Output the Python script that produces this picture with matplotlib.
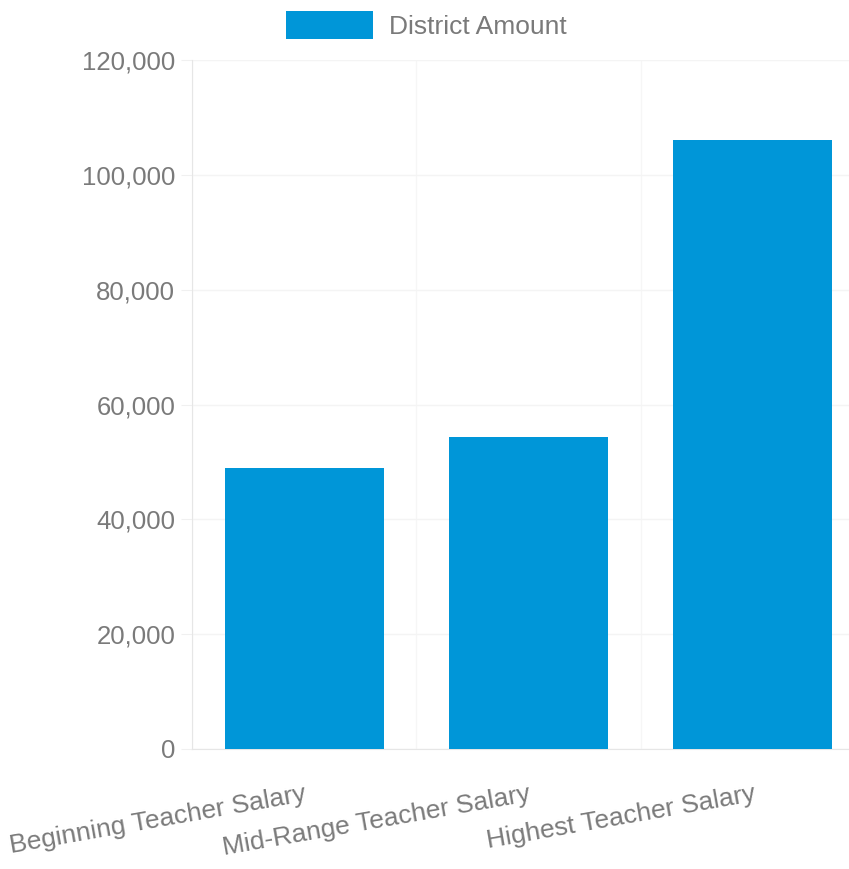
import matplotlib.pyplot as plt
import matplotlib.ticker as ticker

# datos
categorias = ['Beginning Teacher Salary', 'Mid-Range Teacher Salary', 'Highest Teacher Salary']
montos = [48900, 54300, 106100]
serie = 'District Amount'
yticks = [0, 20000, 40000, 60000, 80000, 100000, 120000]

plt.rcParams['font.family'] = ['Liberation Sans', 'DejaVu Sans']
gris = '#7a7a7a'
azul = '#0096d8'

fig = plt.figure(figsize=(8.49, 8.69), dpi=100)
# el eje se sale un poco por la derecha, como en la imagen original
ax = fig.add_axes([192 / 849, 1 - 749 / 869, 673 / 849, 689 / 869])

x = range(len(categorias))
ax.bar(x, montos, width=0.71, color=azul, label=serie, zorder=3)

ax.set_xlim(-0.5, len(categorias) - 0.5)
ax.set_ylim(0, 120000)
ax.set_yticks(yticks)
ax.yaxis.set_major_formatter(ticker.FuncFormatter(lambda v, p: f'{int(v):,}'))
ax.set_xticks(list(x))
ax.set_xticklabels(categorias, rotation=10, ha='right', rotation_mode='anchor')

ax.tick_params(axis='y', colors='#f0f0f0', labelcolor=gris, labelsize=18.5, length=8, pad=4)
ax.tick_params(axis='x', colors='#ececec', labelcolor=gris, labelsize=19, length=0, pad=24)

# rejilla muy tenue
ax.grid(axis='y', color='#f4f4f4', linewidth=1, zorder=0)
ax.set_xticks([-0.5, 0.5, 1.5, 2.5], minor=True)
ax.grid(axis='x', which='minor', color='#f6f6f6', linewidth=1, zorder=0)
ax.tick_params(axis='x', which='minor', length=0)
for lado in ['top', 'right']:
    ax.spines[lado].set_visible(False)
ax.spines['left'].set_color('#e6e6e6')
ax.spines['bottom'].set_color('#e6e6e6')

fig.legend(loc='upper center', bbox_to_anchor=(426 / 849, 1.005), frameon=False,
           fontsize=19, labelcolor=gris, handlelength=3.3, handleheight=1.2,
           handletextpad=0.6, borderaxespad=0.2)

fig.savefig('out.png', dpi=100)
